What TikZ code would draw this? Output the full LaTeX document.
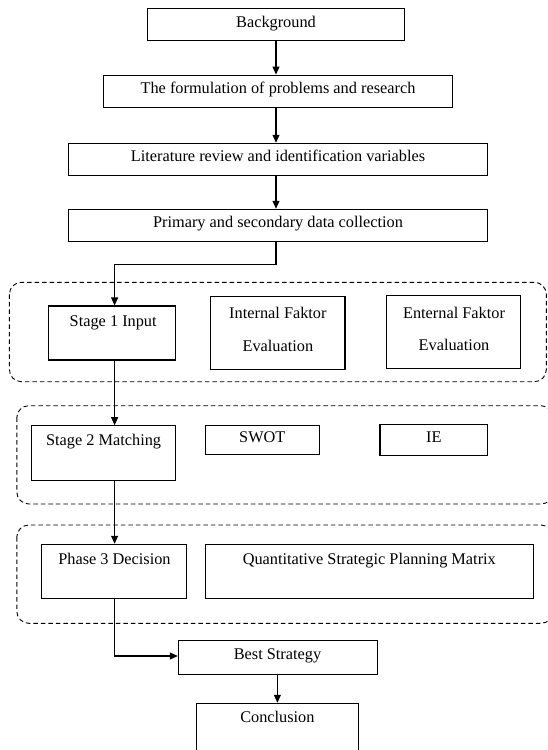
\documentclass[tikz,border=0pt]{standalone}
\usepackage{fontspec}
\setmainfont{Liberation Serif}
\usetikzlibrary{arrows.meta}
\tikzset{
  box/.style={draw, line width=1.1pt, inner sep=0pt, rectangle},
  txt/.style={inner sep=0pt, text height=0.7em, text depth=0.2em, font=\fontsize{16.3}{19}\selectfont, align=center},
  txttwo/.style={inner sep=0pt, font=\fontsize{16.3}{32.7}\selectfont, align=center},
  grp/.style={draw, line width=0.9pt, dash pattern=on 4.5pt off 3pt, rounded corners=12pt},
  arr/.style={line width=1.1pt, -{Triangle[length=8pt,width=7pt]}},
  ln/.style={line width=1.1pt}
}
\begin{document}
\begin{tikzpicture}[x=1pt,y=-1pt]
\useasboundingbox (0,0) rectangle (548,750);
\clip (0,0) rectangle (548,750);
\fill[white] (0,0) rectangle (548,750);

% dashed groups
\draw[grp] (9.4,282.3) rectangle (546.3,381.7);
\draw[grp] (16.8,405.7) rectangle (553,504);
\draw[grp] (16.8,525) rectangle (553,623.3);

% boxes
\node[box, minimum width=257pt, minimum height=32.4pt] (bg) at (276,24.5) {};
\node[txt] at (276,24.5) {Background};
\node[box, minimum width=348.8pt, minimum height=32.3pt] (form) at (278.2,91.2) {};
\node[txt] at (278,91.2) {The formulation of problems and research};
\node[box, minimum width=419pt, minimum height=32pt] (lit) at (278,159.3) {};
\node[txt] at (278,159.3) {Literature review and identification variables};
\node[box, minimum width=419pt, minimum height=32pt] (prim) at (278,225.3) {};
\node[txt] at (278,225.3) {Primary and secondary data collection};

\node[box, minimum width=127pt, minimum height=54pt] (s1) at (112.4,333) {};
\node[txt] at (113.2,324) {Stage 1 Input};
\node[box, minimum width=134.2pt, minimum height=73.3pt] (ife) at (277.9,332.7) {};
\node[txttwo] at (277.9,329.4) {Internal Faktor\\Evaluation};
\node[box, minimum width=134.6pt, minimum height=73.7pt] (efe) at (453.5,331.9) {};
\node[txttwo] at (454,329) {Enternal Faktor\\Evaluation};

\node[box, minimum width=144.3pt, minimum height=54.3pt] (s2) at (103.7,452.9) {};
\node[txt] at (103.6,443.3) {Stage 2 Matching};
\node[box, minimum width=113.6pt, minimum height=29pt] (swot) at (262.3,440.2) {};
\node[txt] at (262.3,440.2) {SWOT};
\node[box, minimum width=107.6pt, minimum height=30.7pt] (ie) at (433.8,439.7) {};
\node[txt] at (433.8,439.7) {IE};

\node[box, minimum width=145.1pt, minimum height=54.4pt] (p3) at (113.8,571.5) {};
\node[txt] at (114.5,561.7) {Phase 3 Decision};
\node[box, minimum width=327.5pt, minimum height=54.4pt] (qspm) at (369.3,571.5) {};
\node[txt] at (369.3,561.7) {Quantitative Strategic Planning Matrix};

\node[box, minimum width=199.2pt, minimum height=34pt] (best) at (277.9,657.3) {};
\node[txt] at (277.5,656.5) {Best Strategy};
\node[box, minimum width=161.9pt, minimum height=60pt] (concl) at (277.4,733.3) {};
\node[txt] at (277.4,720) {Conclusion};

% connectors
\coordinate (lx) at (114.6,0);
\coordinate (t1) at (0,264.3);
\coordinate (t2) at (0,656);
\draw[arr] (bg.south) -- (bg.south |- form.north);
\draw[arr] (bg.south |- form.south) -- (bg.south |- lit.north);
\draw[arr] (bg.south |- lit.south) -- (bg.south |- prim.north);
\draw[arr] (bg.south |- prim.south) -- (bg.south |- t1) -| (lx |- s1.north);
\draw[arr] (lx |- s1.south) -- (lx |- s2.north);
\draw[arr] (lx |- s2.south) -- (lx |- p3.north);
\draw[arr] (lx |- p3.south) |- (best.west |- t2);
\draw[arr] (best.south -| concl.north) -- (concl.north);
\end{tikzpicture}
\end{document}
